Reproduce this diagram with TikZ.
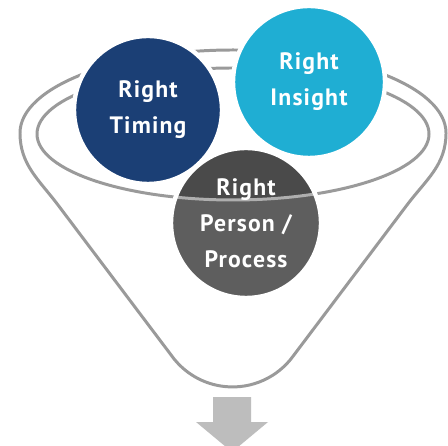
\documentclass[tikz,border=0pt]{standalone}
\usepackage{fontspec}
\setmainfont{PT Sans}
\newfontfamily\ballfont[LetterSpace=5]{PT Sans}
\definecolor{timingblue}{HTML}{1B3F75}
\definecolor{insightblue}{HTML}{1FAED3}
\definecolor{processgray}{HTML}{5E5E5E}
\definecolor{processdark}{HTML}{4A4A4A}
\definecolor{funnelgray}{HTML}{9A9A9A}
\definecolor{arrowgray}{HTML}{BDBDBD}

\begin{document}
\begin{tikzpicture}[x=0.02cm,y=0.02cm,
  rim/.style={draw=funnelgray,line width=1.7pt},
  ball/.style={circle,draw=white,line width=2.5pt,text=white,align=center,inner sep=0pt,
    font=\ballfont\bfseries\fontsize{13.5}{20.5}\selectfont}]
\clip (0,0) rectangle (448,445);
\fill[white] (0,0) rectangle (448,445);

% funnel
\draw[rim] (20,312) arc[start angle=180,end angle=0,x radius=213,y radius=83]
  to[out=-90,in=53] (407,240) -- (293.5,89.4)
  arc[start angle=-35.6,end angle=-144.4,radius=75] -- (58,240)
  to[out=127,in=-90] (20,312) -- cycle;
\draw[rim] (233,311) ellipse[x radius=196,y radius=66];

\node[ball,fill=timingblue,minimum size=2.96cm] (timing) at (148,335) {Right\\Timing};
\node[ball,fill=insightblue,minimum size=3.04cm] (insight) at (309,363) {Right\\Insight};
\node[ball,fill=processgray,minimum size=3cm,
  path picture={
    \fill[processdark] ([shift={(-13,89)}]path picture bounding box.center) ellipse[x radius=196,y radius=66];
    \draw[draw=funnelgray!80,line width=1.7pt] ([shift={(-13,89)}]path picture bounding box.center) ellipse[x radius=196,y radius=66];
  }] (process) at (246,222) {Right\\Person /\\Process};

% arrow
\fill[arrowgray] (213,48) -- (251,48) -- (251,23) -- (268,23) -- (232,-7) -- (196,23) -- (213,23) -- cycle;

\end{tikzpicture}
\end{document}
